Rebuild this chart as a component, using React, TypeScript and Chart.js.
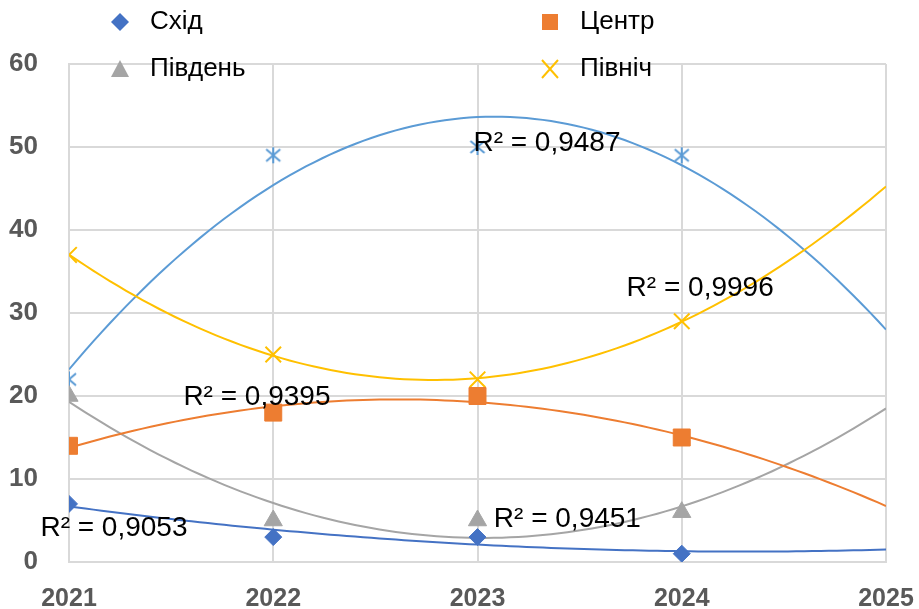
import React, { useEffect, useRef } from 'react';
import { Chart, registerables } from 'chart.js';

Chart.register(...registerables);

// ---- data ----
const years = [2021, 2022, 2023, 2024];
const trendEndYear = 2025;
const shid = [7, 3, 3, 1];
const tsentr = [14, 18, 20, 15];
const pivden = [20, 5, 5, 6];
const pivnich = [37, 25, 22, 29];
const extraSeries = [22, 49, 50, 49];
const seriesNames = ['Схід', 'Центр', 'Південь', 'Північ'];
const r2Texts = ['R² = 0,9053', 'R² = 0,9451', 'R² = 0,9395', 'R² = 0,9996', 'R² = 0,9487'];
// label anchors (left edge x value, vertical centre y value)
const r2AnchorX = [2020.86, 2023.08, 2021.56, 2023.73, 2022.98];
const r2AnchorY = [4.1, 5.2, 19.9, 33.0, 50.5];

const COLORS = {
  shid: '#4472C4',
  tsentr: '#ED7D31',
  pivden: '#A5A5A5',
  pivnich: '#FFC000',
  extra: '#5B9BD5',
};

const FONT = "'Liberation Sans', Arial, sans-serif";

function fitQuad(xs: number[], ys: number[]) {
  const x0 = xs[0];
  const S = [0, 0, 0, 0, 0];
  const T = [0, 0, 0];
  for (let i = 0; i < xs.length; i++) {
    const t = xs[i] - x0;
    for (let k = 0; k < 5; k++) S[k] += Math.pow(t, k);
    for (let k = 0; k < 3; k++) T[k] += ys[i] * Math.pow(t, k);
  }
  const M = [
    [S[0], S[1], S[2], T[0]],
    [S[1], S[2], S[3], T[1]],
    [S[2], S[3], S[4], T[2]],
  ];
  for (let c = 0; c < 3; c++) {
    let p = c;
    for (let r = c + 1; r < 3; r++) if (Math.abs(M[r][c]) > Math.abs(M[p][c])) p = r;
    [M[c], M[p]] = [M[p], M[c]];
    for (let r = 0; r < 3; r++) {
      if (r === c) continue;
      const f = M[r][c] / M[c][c];
      for (let k = c; k < 4; k++) M[r][k] -= f * M[c][k];
    }
  }
  const a = M[0][3] / M[0][0];
  const b = M[1][3] / M[1][1];
  const cc = M[2][3] / M[2][2];
  return (x: number) => {
    const t = x - x0;
    return a + b * t + cc * t * t;
  };
}

function trendPoints(ys: number[]) {
  const f = fitQuad(years, ys);
  const pts: { x: number; y: number }[] = [];
  const n = 100;
  for (let i = 0; i <= n; i++) {
    const x = years[0] + ((trendEndYear - years[0]) * i) / n;
    pts.push({ x, y: f(x) });
  }
  return pts;
}

function makeAsterisk(color: string) {
  const c = document.createElement('canvas');
  c.width = 20;
  c.height = 20;
  const ctx = c.getContext('2d')!;
  ctx.strokeStyle = color;
  ctx.lineWidth = 2;
  ctx.beginPath();
  ctx.moveTo(3, 4);
  ctx.lineTo(17, 16);
  ctx.moveTo(17, 4);
  ctx.lineTo(3, 16);
  ctx.moveTo(10, 2);
  ctx.lineTo(10, 18);
  ctx.stroke();
  return c;
}

function drawMarker(ctx: CanvasRenderingContext2D, kind: string, x: number, y: number, color: string) {
  ctx.save();
  ctx.fillStyle = color;
  ctx.strokeStyle = color;
  ctx.beginPath();
  if (kind === 'diamond') {
    ctx.moveTo(x - 9, y);
    ctx.lineTo(x, y - 9);
    ctx.lineTo(x + 9, y);
    ctx.lineTo(x, y + 9);
    ctx.closePath();
    ctx.fill();
  } else if (kind === 'square') {
    ctx.rect(x - 8, y - 8, 16, 16);
    ctx.fill();
  } else if (kind === 'triangle') {
    ctx.moveTo(x, y - 9);
    ctx.lineTo(x + 9, y + 8);
    ctx.lineTo(x - 9, y + 8);
    ctx.closePath();
    ctx.fill();
  } else if (kind === 'cross') {
    ctx.lineWidth = 2;
    ctx.moveTo(x - 8, y - 9);
    ctx.lineTo(x + 8, y + 9);
    ctx.moveTo(x + 8, y - 9);
    ctx.lineTo(x - 8, y + 9);
    ctx.stroke();
  }
  ctx.restore();
}

const overlayPlugin = {
  id: 'overlay',
  afterDraw(chart: any) {
    const ctx: CanvasRenderingContext2D = chart.ctx;
    const xs = chart.scales.x;
    const ys = chart.scales.y;
    ctx.save();
    // R² labels
    ctx.font = `28px ${FONT}`;
    ctx.fillStyle = '#000000';
    ctx.textAlign = 'left';
    ctx.textBaseline = 'middle';
    for (let i = 0; i < r2Texts.length; i++) {
      ctx.fillText(r2Texts[i], xs.getPixelForValue(r2AnchorX[i]), ys.getPixelForValue(r2AnchorY[i]));
    }
    // legend
    const kinds = ['diamond', 'square', 'triangle', 'cross'];
    const cols = [COLORS.shid, COLORS.tsentr, COLORS.pivden, COLORS.pivnich];
    const mx = [120, 550, 120, 550];
    const my = [22, 22, 69, 69];
    ctx.font = `26px ${FONT}`;
    ctx.fillStyle = '#000000';
    for (let i = 0; i < 4; i++) {
      drawMarker(ctx, kinds[i], mx[i], my[i], cols[i]);
      ctx.fillStyle = '#000000';
      ctx.fillText(seriesNames[i], mx[i] + 30, my[i]);
    }
    ctx.restore();
  },
};

export default function App() {
  const ref = useRef<HTMLCanvasElement | null>(null);

  useEffect(() => {
    if (!ref.current) return;
    const toXY = (ys: number[]) => years.map((x, i) => ({ x, y: ys[i] }));
    const asterisk = makeAsterisk(COLORS.extra);

    const markerDs = (label: string, ys: number[], color: string, style: any, radius: number, extra: any = {}) => ({
      label,
      data: toXY(ys),
      showLine: false,
      pointStyle: style,
      pointRadius: radius,
      pointBackgroundColor: color,
      pointBorderColor: color,
      pointBorderWidth: 1,
      ...extra,
    });
    const trendDs = (ys: number[], color: string) => ({
      label: 'trend',
      data: trendPoints(ys),
      showLine: true,
      borderColor: color,
      borderWidth: 2,
      pointRadius: 0,
      tension: 0,
      fill: false,
    });

    const chart = new Chart(ref.current, {
      type: 'scatter',
      data: {
        datasets: [
          markerDs(seriesNames[0], shid, COLORS.shid, 'rectRot', 8.5),
          markerDs(seriesNames[1], tsentr, COLORS.tsentr, 'rect', 12),
          markerDs(seriesNames[2], pivden, COLORS.pivden, 'triangle', 10.5),
          markerDs(seriesNames[3], pivnich, COLORS.pivnich, 'crossRot', 11, { pointBorderWidth: 2 }),
          markerDs('extra', extraSeries, COLORS.extra, asterisk, 10),
          trendDs(shid, COLORS.shid),
          trendDs(tsentr, COLORS.tsentr),
          trendDs(pivden, COLORS.pivden),
          trendDs(pivnich, COLORS.pivnich),
          trendDs(extraSeries, COLORS.extra),
        ] as any,
      },
      options: {
        animation: false,
        responsive: true,
        maintainAspectRatio: false,
        layout: { padding: { top: 64, right: 33, left: 0, bottom: 0 } },
        plugins: {
          legend: { display: false },
          tooltip: { enabled: false },
        },
        scales: {
          x: {
            type: 'linear',
            min: 2021,
            max: 2025,
            ticks: {
              stepSize: 1,
              callback: (v: any) => String(v),
              font: { family: FONT, size: 25, weight: 'bold' },
              color: '#595959',
              padding: 22,
            },
            grid: { color: '#d9d9d9', lineWidth: 2, drawTicks: false },
            border: { color: '#d9d9d9', width: 2 },
            afterFit: (s: any) => {
              s.height = 47;
              s.paddingLeft = 0;
              s.paddingRight = 0;
            },
          },
          y: {
            min: 0,
            max: 60,
            ticks: {
              stepSize: 10,
              font: { family: FONT, size: 26, weight: 'bold' },
              color: '#595959',
              padding: 31,
            },
            grid: { color: '#d9d9d9', lineWidth: 2, drawTicks: false },
            border: { color: '#d9d9d9', width: 2 },
            afterFit: (s: any) => {
              s.width = 69;
              s.paddingTop = 0;
              s.paddingBottom = 0;
            },
          },
        },
      } as any,
      plugins: [overlayPlugin],
    });
    return () => chart.destroy();
  }, []);

  return (
    <div style={{ position: 'absolute', left: 0, top: 0, width: 919, height: 609, background: '#fff' }}>
      <canvas ref={ref} />
    </div>
  );
}
